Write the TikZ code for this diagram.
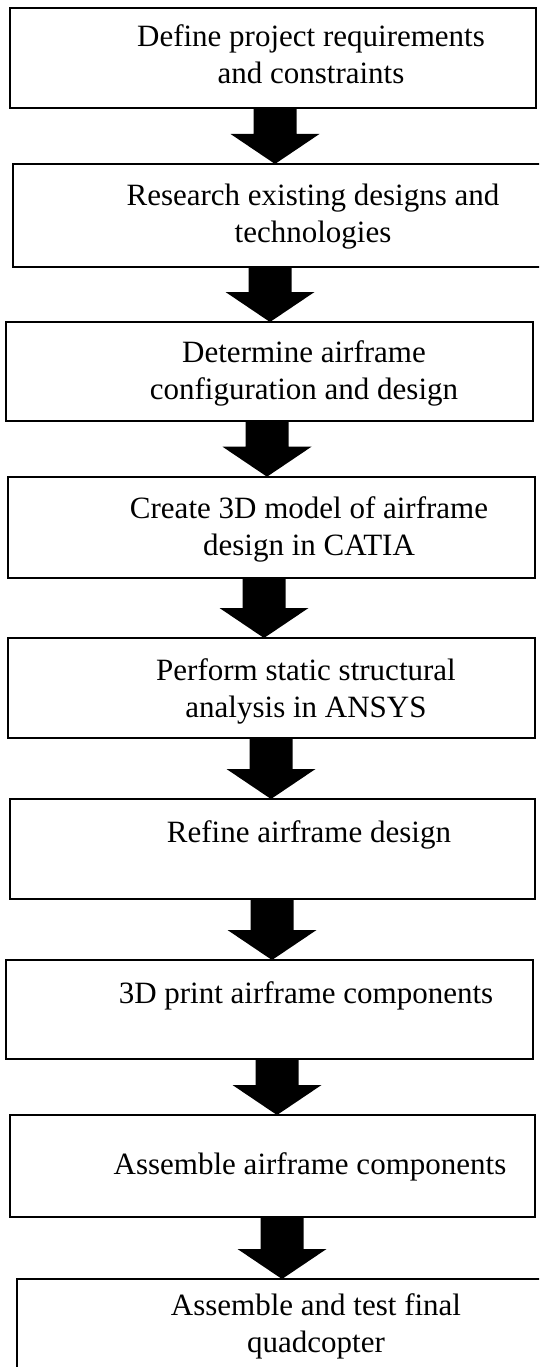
\documentclass[tikz,border=0pt]{standalone}
\usepackage{fontspec}
\setmainfont{Liberation Serif}
\usetikzlibrary{calc}
\tikzset{
  box/.style={draw=black, line width=1.7pt, rectangle, inner sep=0pt, outer sep=0pt},
  steptext/.style={anchor=base, inner sep=0pt, outer sep=0pt, font=\fontsize{31}{37}\selectfont},
}
\newcommand\blockarrow[3]{%
  \path (#3 |- #1.south) coordinate (arrS) (#3 |- #2.north) coordinate (arrT);
  \fill[black] ($(arrS)+(-21.5,0)$) -- ($(arrS)+(21.5,0)$) -- ($(arrT)+(21.5,-30)$)
    -- ($(arrT)+(44.5,-30)$) -- (arrT) -- ($(arrT)+(-44.5,-30)$) -- ($(arrT)+(-21.5,-30)$) -- cycle;}
\begin{document}
\begin{tikzpicture}[x=1pt,y=-1pt]
\useasboundingbox (0,0) rectangle (539,1367);
\fill[white] (0,0) rectangle (539,1367);
\clip (0,0) rectangle (539,1367);
% boxes
\node[box, minimum width=526pt, minimum height=100pt] (b1) at (273,58) {};
\node[box, minimum width=532.3pt, minimum height=102.7pt] (b2) at (278.85,215.3) {};
\node[box, minimum width=527.3pt, minimum height=99pt] (b3) at (269.35,371.5) {};
\node[box, minimum width=526.7pt, minimum height=101.3pt] (b4) at (271.65,527.35) {};
\node[box, minimum width=526.7pt, minimum height=100pt] (b5) at (271.65,688) {};
\node[box, minimum width=525pt, minimum height=100pt] (b6) at (272.5,849) {};
\node[box, minimum width=527.3pt, minimum height=99pt] (b7) at (269.35,1009.5) {};
\node[box, minimum width=525pt, minimum height=102pt] (b8) at (272.5,1166) {};
\node[box, minimum width=543.3pt, minimum height=121pt] (b9) at (288.35,1339.5) {};
% texts
\node[steptext] (t1) at (311,46.7) {\begin{tabular}[t]{@{}c@{}}Define project requirements\\and constraints\end{tabular}};
\node[steptext] (t2) at (313,205) {\begin{tabular}[t]{@{}c@{}}Research existing designs and\\technologies\end{tabular}};
\node[steptext] (t3) at (304,362.7) {\begin{tabular}[t]{@{}c@{}}Determine airframe\\configuration and design\end{tabular}};
\node[steptext] (t4) at (309,518) {\begin{tabular}[t]{@{}c@{}}Create 3D model of airframe\\design in CATIA\end{tabular}};
\node[steptext] (t5) at (306,680) {\begin{tabular}[t]{@{}c@{}}Perform static structural\\analysis in ANSYS\end{tabular}};
\node[steptext] (t6) at (309,842.7) {Refine airframe design};
\node[steptext] (t7) at (306,1003) {3D print airframe components};
\node[steptext] (t8) at (310,1174) {Assemble airframe components};
\node[steptext] (t9) at (316,1315) {\begin{tabular}[t]{@{}c@{}}Assemble and test final\\quadcopter\end{tabular}};
% arrow axes
\coordinate (x1) at (275,0);
\coordinate (x2) at (270,0);
\coordinate (x3) at (267,0);
\coordinate (x4) at (264,0);
\coordinate (x5) at (271,0);
\coordinate (x6) at (272,0);
\coordinate (x7) at (277,0);
\coordinate (x8) at (282,0);
\blockarrow{b1}{b2}{x1}
\blockarrow{b2}{b3}{x2}
\blockarrow{b3}{b4}{x3}
\blockarrow{b4}{b5}{x4}
\blockarrow{b5}{b6}{x5}
\blockarrow{b6}{b7}{x6}
\blockarrow{b7}{b8}{x7}
\blockarrow{b8}{b9}{x8}
\end{tikzpicture}
\end{document}
